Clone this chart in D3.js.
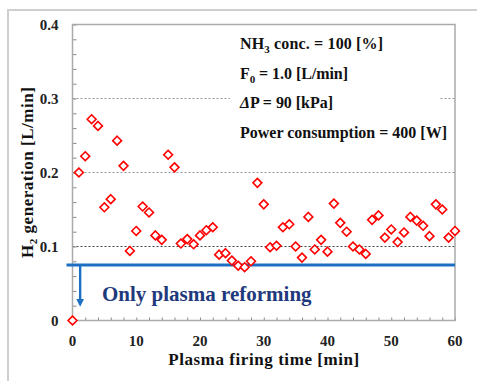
<!DOCTYPE html>
<html>
<head>
<meta charset="utf-8">
<script src="https://cdn.jsdelivr.net/npm/d3@7"></script>
<style>
  html, body { margin: 0; padding: 0; background: #fff; }
  svg { display: block; }
</style>
</head>
<body>
<svg id="chart" width="477" height="381"></svg>
<script>
// data
const minutes = d3.range(0, 61);
const h2Flow = [
    0.000, 0.200, 0.222, 0.272, 0.263, 0.153, 0.164, 0.243, 0.209, 0.094,
    0.121, 0.154, 0.146, 0.115, 0.109, 0.224, 0.207, 0.104, 0.110, 0.103,
    0.115, 0.122, 0.126, 0.089, 0.091, 0.081, 0.074, 0.072, 0.080, 0.186,
    0.157, 0.099, 0.101, 0.126, 0.130, 0.100, 0.085, 0.140, 0.096, 0.109,
    0.093, 0.158, 0.132, 0.120, 0.100, 0.096, 0.090, 0.136, 0.142, 0.112,
    0.123, 0.106, 0.119, 0.140, 0.135, 0.128, 0.114, 0.157, 0.150, 0.112,
    0.121
];
const xTickLabels = [0, 10, 20, 30, 40, 50, 60];
const yTickLabels = [0, 0.1, 0.2, 0.3, 0.4];
const gridValues = [0.1, 0.2, 0.3];
const plasmaOnlyLevel = 0.075;
const conditionLines = ['NH3', 'F0', 'dP', 'power'];
// widths the condition lines take in the reference
const conditionWidths = [143, 108, 93, 207];

const serif = '"Liberation Serif", "Times New Roman", serif';
const margin = { top: 24.5, left: 72.5, right: 22, bottom: 60.5 };
const width = 477, height = 381;
const plotW = width - margin.left - margin.right;
const plotH = height - margin.top - margin.bottom;

const svg = d3.select('#chart')
    .attr('font-family', serif)
    .attr('font-weight', 'bold');

// outer frame
svg.append('rect')
    .attr('x', 8).attr('y', 10)
    .attr('width', 480).attr('height', 390)
    .attr('fill', 'none')
    .attr('stroke', '#cfcfcf')
    .attr('stroke-width', 2);

const x = d3.scaleLinear().domain([0, 60]).range([0, plotW]);
const y = d3.scaleLinear().domain([0, 0.4]).range([plotH, 0]);

const g = svg.append('g')
    .attr('transform', `translate(${margin.left},${margin.top})`);

// grid lines
g.selectAll('.grid')
    .data(gridValues)
    .enter()
    .append('line')
    .attr('class', 'grid')
    .attr('x1', 0).attr('x2', plotW)
    .attr('y1', d => y(d)).attr('y2', d => y(d))
    .attr('stroke', (d, i) => i === 0 ? '#444' : '#999')
    .attr('stroke-width', 1)
    .attr('stroke-dasharray', '2,2');

// white box holding the test conditions
g.append('rect')
    .attr('x', 230 - margin.left).attr('y', 30 - margin.top)
    .attr('width', 210).attr('height', 115)
    .attr('fill', '#fff');

const condText = g.append('g')
    .attr('transform', `translate(${240 - margin.left},0)`)
    .attr('font-size', 16)
    .attr('fill', '#111');

conditionLines.forEach((key, i) => {
    const t = condText.append('text')
        .attr('y', 49 - margin.top + i * 29.5)
        .attr('textLength', conditionWidths[i])
        .attr('lengthAdjust', 'spacing');
    if (key === 'NH3') {
        t.append('tspan').text('NH');
        t.append('tspan').attr('font-size', 11).attr('dy', 4).text('3');
        t.append('tspan').attr('dy', -4).text(' conc. = 100 [%]');
    } else if (key === 'F0') {
        t.append('tspan').text('F');
        t.append('tspan').attr('font-size', 11).attr('dy', 4).text('0');
        t.append('tspan').attr('dy', -4).text(' = 1.0 [L/min]');
    } else if (key === 'dP') {
        t.append('tspan').attr('font-style', 'italic').text('Δ');
        t.append('tspan').text('P = 90 [kPa]');
    } else {
        t.text('Power consumption = 400 [W]');
    }
});

// axes ticks (inward)
const yAxis = d3.axisRight(y)
    .tickValues(d3.range(0, 0.401, 0.02))
    .tickSize(4)
    .tickFormat('');
g.append('g').call(yAxis)
    .call(s => s.select('.domain').remove())
    .selectAll('line').attr('stroke', '#888');

const xAxis = d3.axisTop(x)
    .tickValues(d3.range(0, 61, 2))
    .tickSize(3)
    .tickFormat('');
g.append('g').attr('transform', `translate(0,${plotH})`).call(xAxis)
    .call(s => s.select('.domain').remove())
    .selectAll('line').attr('stroke', '#888');

// plot frame
g.append('rect')
    .attr('width', plotW).attr('height', plotH)
    .attr('fill', 'none')
    .attr('stroke', '#aaa')
    .attr('stroke-width', 1.5);

// tick labels
g.selectAll('.ylab')
    .data(yTickLabels)
    .enter()
    .append('text')
    .attr('class', 'ylab')
    .attr('x', -14)
    .attr('y', d => y(d))
    .attr('dy', '0.35em')
    .attr('text-anchor', 'end')
    .attr('font-size', 15)
    .attr('fill', '#222')
    .text(d => d === 0 ? '0' : d.toFixed(1));

g.selectAll('.xlab')
    .data(xTickLabels)
    .enter()
    .append('text')
    .attr('class', 'xlab')
    .attr('x', d => x(d))
    .attr('y', plotH + 20)
    .attr('dy', '0.35em')
    .attr('text-anchor', 'middle')
    .attr('font-size', 15)
    .attr('fill', '#222')
    .text(d => d);

// axis titles
g.append('text')
    .attr('x', plotW / 2)
    .attr('y', plotH + 44)
    .attr('text-anchor', 'middle')
    .attr('font-size', 17)
    .attr('textLength', 191)
    .attr('lengthAdjust', 'spacing')
    .attr('fill', '#111')
    .text('Plasma firing time [min]');

const yTitle = g.append('text')
    .attr('transform', `translate(${33 - margin.left},${plotH / 2}) rotate(-90)`)
    .attr('text-anchor', 'middle')
    .attr('font-size', 17)
    .attr('textLength', 171)
    .attr('lengthAdjust', 'spacing')
    .attr('fill', '#111');
yTitle.append('tspan').text('H');
yTitle.append('tspan').attr('font-size', 11).attr('dy', 4).text('2');
yTitle.append('tspan').attr('dy', -4).text(' generation [L/min]');

// plasma-only level line and arrow
const blue = '#1c6fc2';
g.append('line')
    .attr('x1', -6).attr('x2', plotW)
    .attr('y1', y(plasmaOnlyLevel)).attr('y2', y(plasmaOnlyLevel))
    .attr('stroke', blue)
    .attr('stroke-width', 3);

svg.append('defs').append('marker')
    .attr('id', 'arrow')
    .attr('viewBox', '0 0 10 10')
    .attr('refX', 5).attr('refY', 5)
    .attr('markerWidth', 3.4).attr('markerHeight', 3.4)
    .attr('orient', 'auto')
    .append('path')
    .attr('d', 'M0,0 L10,5 L0,10 Z')
    .attr('fill', blue);

g.append('line')
    .attr('x1', x(1.2)).attr('x2', x(1.2))
    .attr('y1', y(plasmaOnlyLevel)).attr('y2', y(0.024))
    .attr('stroke', blue)
    .attr('stroke-width', 2.4)
    .attr('marker-end', 'url(#arrow)');

g.append('text')
    .attr('x', 102 - margin.left)
    .attr('y', 301 - margin.top)
    .attr('font-size', 21)
    .attr('fill', '#1f3a7c')
    .text('Only plasma reforming');

// data markers
const diamond = d3.symbol().type(d3.symbolDiamond2).size(50);
g.selectAll('.pt')
    .data(minutes)
    .enter()
    .append('path')
    .attr('class', 'pt')
    .attr('transform', (d, i) => `translate(${x(d)},${y(h2Flow[i])})`)
    .attr('d', diamond)
    .attr('fill', '#fff')
    .attr('stroke', '#ff0000')
    .attr('stroke-width', 1.6);
</script>
</body>
</html>
